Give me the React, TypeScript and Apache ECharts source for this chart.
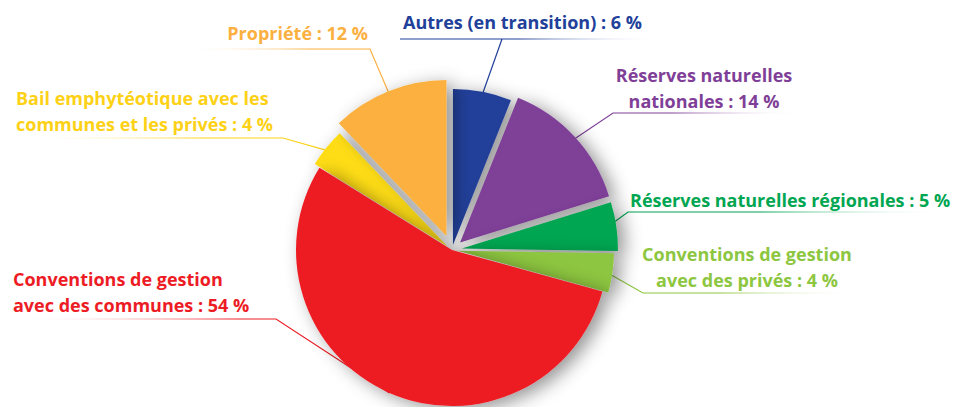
import React, { useEffect, useRef } from "react";
import * as echarts from "echarts";

const categories = [
  "Autres (en transition)",
  "Réserves naturelles\nnationales",
  "Réserves naturelles régionales",
  "Conventions de gestion\navec des privés",
  "Conventions de gestion\navec des communes",
  "Bail emphytéotique avec les\ncommunes et les privés",
  "Propriété",
];
const values = [6, 14, 5, 4, 54, 4, 12];
const colors = ["#21409a", "#7f3f98", "#00a651", "#8dc63f", "#ed1c24", "#ffdd17", "#fbb040"];
const labelColors = ["#21409a", "#7f3f98", "#00a651", "#8dc63f", "#ed1c24", "#fcd116", "#fbb040"];

// how far each slice is pulled out (style, px)
const explodeOffsets = [5, 11, 10, 6, 0, 6, 15];

// label layout (anchor x, y, align, underline y, underline from x, to x, elbow x)
const labelPos = [
  { x: 403, y: 22, align: "left", uy: 39, ux0: 400, ux1: 662, ex: 502 },
  { x: 704, y: 88, align: "center", uy: 113, ux0: 613, ux1: 800, ex: 613 },
  { x: 630, y: 200, align: "left", uy: 212, ux0: 628, ux1: 948, ex: 628 },
  { x: 747, y: 267, align: "center", uy: 293, ux0: 643, ux1: 858, ex: 643 },
  { x: 13, y: 292, align: "left", uy: 319, ux0: 13, ux1: 276, ex: 276 },
  { x: 16, y: 111, align: "left", uy: 138, ux0: 18, ux1: 283, ex: 283 },
  { x: 368, y: 33, align: "right", uy: 49, ux0: 185, ux1: 370, ex: 370 },
];

const hidden = {
  color: "rgba(0,0,0,0)",
  borderWidth: 0,
  shadowBlur: 0,
  shadowOffsetX: 0,
  shadowOffsetY: 0,
  shadowColor: "rgba(0,0,0,0)",
};

export default function App() {
  const ref = useRef<HTMLDivElement>(null);
  useEffect(() => {
    document.body.style.margin = "0";
    const chart = echarts.init(ref.current!, null, { renderer: "svg" });

    const sliceStyle = {
      borderWidth: 0,
      shadowBlur: 18,
      shadowColor: "rgba(0,0,0,0.42)",
      shadowOffsetX: 7,
      shadowOffsetY: 4,
    };
    const base = {
      type: "pie",
      center: [452, 250],
      radius: [0, 156],
      startAngle: 90,
      clockwise: true,
      selectedMode: "multiple",
      emphasis: { disabled: true },
      silent: true,
      label: { show: false },
      labelLine: { show: false },
    };

    // one pie series per distinct pull-out distance
    const groups = Array.from(new Set(explodeOffsets));
    const sliceSeries = groups.map((off) => ({
      ...base,
      selectedOffset: off,
      itemStyle: sliceStyle,
      data: values.map((v, i) => ({
        name: categories[i],
        value: v,
        selected: explodeOffsets[i] === off && off > 0,
        itemStyle: explodeOffsets[i] === off ? { color: colors[i] } : hidden,
      })),
    }));

    const labelData = values.map((v, i) => {
      const p = labelPos[i];
      const fadeLeft = p.ex > (p.ux0 + p.ux1) / 2;
      const c = labelColors[i];
      const grad = new echarts.graphic.LinearGradient(0, 0, 1, 0,
        fadeLeft
          ? [{ offset: 0, color: "rgba(255,255,255,0)" }, { offset: 0.6, color: c }, { offset: 1, color: c }]
          : [{ offset: 0, color: c }, { offset: 0.45, color: c }, { offset: 1, color: "rgba(255,255,255,0)" }]
      );
      return {
        name: categories[i],
        value: v,
        itemStyle: hidden,
        label: { color: c },
        labelLine: { lineStyle: { color: grad, width: 1.2 } },
      };
    });

    chart.setOption({
      animation: false,
      backgroundColor: "#ffffff",
      series: [
        ...sliceSeries,
        {
          ...base,
          selectedMode: false,
          itemStyle: hidden,
          label: {
            show: true,
            position: "outside",
            formatter: "{b} : {c} %",
            fontFamily: "'Open Sans', sans-serif",
            fontWeight: 700,
            fontSize: 18,
            lineHeight: 26,
          },
          labelLine: { show: true, length: 10, length2: 10 },
          labelLayout: (params: any) => {
            const p = labelPos[params.dataIndex];
            const start = params.labelLinePoints ? params.labelLinePoints[0] : [p.ex, p.uy];
            const pts: number[][] = [start, [p.ex, p.uy]];
            if (p.ex === p.ux0) pts.push([p.ux1, p.uy]);
            else if (p.ex === p.ux1) pts.push([p.ux0, p.uy]);
            else { pts.push([p.ux0, p.uy]); pts.push([p.ux1, p.uy]); }
            return {
              x: p.x,
              y: p.y,
              align: p.align,
              verticalAlign: "middle",
              labelLinePoints: pts,
            };
          },
          data: labelData,
        },
      ],
    });
    return () => chart.dispose();
  }, []);
  return <div ref={ref} style={{ width: 966, height: 407 }} />;
}
